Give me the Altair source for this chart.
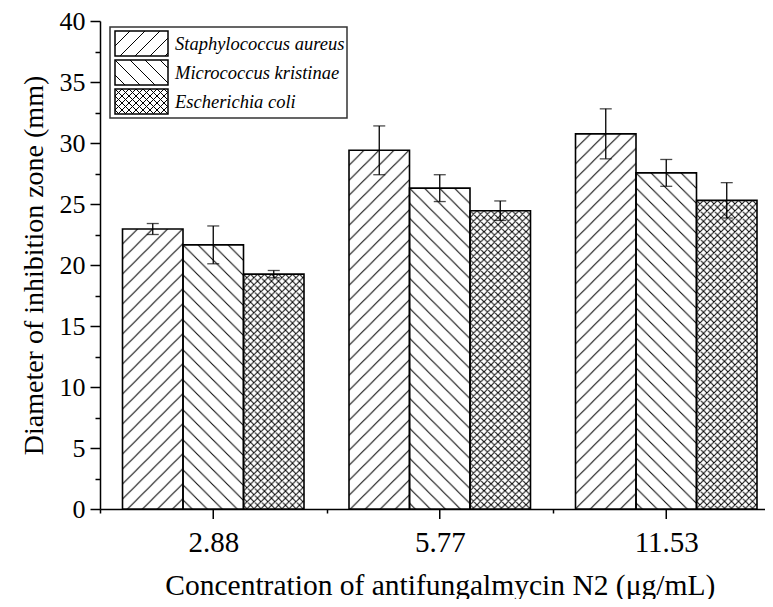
import base64
import altair as alt
import pandas as pd

# ---------------- data ----------------
concentrations = ["2.88", "5.77", "11.53"]
species = ["Staphylococcus aureus", "Micrococcus kristinae", "Escherichia coli"]
mean_sa = [22.95, 29.4, 30.75]
mean_mk = [21.65, 26.3, 27.55]
mean_ec = [19.25, 24.45, 25.3]
err_sa = [0.45, 2.0, 2.05]
err_mk = [1.55, 1.1, 1.1]
err_ec = [0.3, 0.8, 1.45]
y_tick_values = [0, 2.5, 5, 7.5, 10, 12.5, 15, 17.5, 20, 22.5, 25, 27.5,
                 30, 32.5, 35, 37.5, 40]

means = [mean_sa, mean_mk, mean_ec]
errs = [err_sa, err_mk, err_ec]
rows = []
for s, m, e in zip(species, means, errs):
    for c, mv, ev in zip(concentrations, m, e):
        rows.append({"conc": c, "species": s, "mean": mv, "err": ev})
df = pd.DataFrame(rows)
conc_df = pd.DataFrame({"conc": concentrations})
one = pd.DataFrame({"k": [0]})

# ---------------- styles ----------------
FONT = "Liberation Serif"


def hatch_uri(path, size):
    svg = ('<svg xmlns="http://www.w3.org/2000/svg" width="100%" height="100%">'
           '<defs><pattern id="h" x="0" y="0" width="{s}" height="{s}" '
           'patternUnits="userSpaceOnUse"><path d="{p}" stroke="#000" '
           'stroke-width="1" fill="none"/></pattern></defs>'
           '<rect x="0" y="0" width="100%" height="100%" fill="#fff"/>'
           '<rect x="0" y="0" width="100%" height="100%" fill="url(#h)"/>'
           '</svg>').format(s=size, p=path)
    return "data:image/svg+xml;base64," + base64.b64encode(svg.encode()).decode()


def fwd(s):
    return f"M0,{s} L{s},0 M-1,1 L1,-1 M{s-1},{s+1} L{s+1},{s-1}"


def back(s):
    return f"M0,0 L{s},{s} M{s-1},-1 L{s+1},1 M-1,{s-1} L1,{s+1}"


patterns = {
    species[0]: hatch_uri(fwd(15), 15),
    species[1]: hatch_uri(back(15), 15),
    species[2]: hatch_uri(fwd(7) + " " + back(7), 7),
}

x_axis = alt.Axis(
    title="Concentration of antifungalmycin N2 (μg/mL)",
    tickBand="extent", tickSize=4, tickWidth=1.5, tickColor="black",
    domainColor="black", domainWidth=1.5,
    labelAngle=0, labelFont=FONT, labelFontSize=29, labelColor="black",
    labelPadding=15,
    titleFont=FONT, titleFontSize=29.5, titleFontWeight="normal",
    titleColor="black", titlePadding=14,
)
y_axis = alt.Axis(
    title="Diameter of inhibition zone (mm)",
    values=y_tick_values,
    tickSize={"condition": {"test": "datum.value % 5 === 0", "value": 10}, "value": 5},
    tickWidth=1.5, tickColor="black",
    domainColor="black", domainWidth=1.5,
    labelExpr="datum.value % 5 === 0 ? datum.label : ''",
    labelFont=FONT, labelFontSize=26, labelColor="black", labelPadding=5,
    titleFont=FONT, titleFontSize=28, titleFontWeight="normal",
    titleColor="black", titlePadding=11,
)

x_enc = alt.X("conc:N", sort=concentrations,
              scale=alt.Scale(domain=concentrations, range=[0, 679.5],
                              paddingInner=0, paddingOuter=0),
              axis=x_axis)
xo_enc = alt.XOffset("species:N",
                     scale=alt.Scale(domain=species, paddingOuter=0.372,
                                     paddingInner=0))
y_scale = alt.Scale(domain=[0, 40], nice=False, zero=True)

base = alt.Chart(df).transform_calculate(
    lo="datum.mean - datum.err", hi="datum.mean + datum.err", zero="0"
)

layers = []
for s in species:
    layers.append(
        base.transform_filter(alt.datum.species == s)
        .mark_image(aspect=False)
        .encode(x=x_enc, xOffset=xo_enc,
                y=alt.Y("mean:Q", scale=y_scale, axis=y_axis),
                y2="zero:Q",
                url=alt.value(patterns[s]))
    )

outline = base.mark_bar(fill="transparent", stroke="black", strokeWidth=1.6).encode(
    x=x_enc, xOffset=xo_enc,
    y=alt.Y("mean:Q", scale=y_scale, axis=y_axis), y2="zero:Q")

err_rule = base.mark_rule(color="black", strokeWidth=1.3).encode(
    x=x_enc, xOffset=xo_enc,
    y=alt.Y("lo:Q", scale=y_scale, axis=y_axis), y2="hi:Q")
cap_lo = base.mark_tick(orient="horizontal", size=12, thickness=1.3, color="black").encode(
    x=x_enc, xOffset=xo_enc, y=alt.Y("lo:Q", scale=y_scale, axis=y_axis))
cap_hi = base.mark_tick(orient="horizontal", size=12, thickness=1.3, color="black").encode(
    x=x_enc, xOffset=xo_enc, y=alt.Y("hi:Q", scale=y_scale, axis=y_axis))

major_ticks = alt.Chart(conc_df).mark_rule(color="black", strokeWidth=1.5).encode(
    x=x_enc, y=alt.value(488), y2=alt.value(498))

# ---------------- legend ----------------
legend_layers = [
    alt.Chart(one).mark_rect(fill="white", stroke="#333", strokeWidth=1.5).encode(
        x=alt.value(10), x2=alt.value(247), y=alt.value(6), y2=alt.value(97))
]
for i, s in enumerate(species):
    top = 10 + 29 * i
    legend_layers.append(
        alt.Chart(one).mark_image(aspect=False).encode(
            x=alt.value(15), x2=alt.value(68), y=alt.value(top), y2=alt.value(top + 25),
            url=alt.value(patterns[s])))
    legend_layers.append(
        alt.Chart(one).mark_rect(fill="transparent", stroke="black", strokeWidth=1.5).encode(
            x=alt.value(15), x2=alt.value(68), y=alt.value(top), y2=alt.value(top + 25)))
    legend_layers.append(
        alt.Chart(one).mark_text(align="left", baseline="middle", font=FONT,
                                 fontStyle="italic", fontSize=18.5, color="black").encode(
            x=alt.value(75), y=alt.value(top + 13), text=alt.value(s)))

chart = alt.layer(*layers, outline, err_rule, cap_lo, cap_hi, major_ticks,
                  *legend_layers).properties(
    width=665, height=488,
    autosize=alt.AutoSizeParams(type="none"),
    padding={"left": 92, "top": 13, "right": 0, "bottom": 90},
).configure_view(stroke=None).configure_axis(grid=False)

chart.save("out.html", embed_options={"renderer": "svg", "actions": False})
